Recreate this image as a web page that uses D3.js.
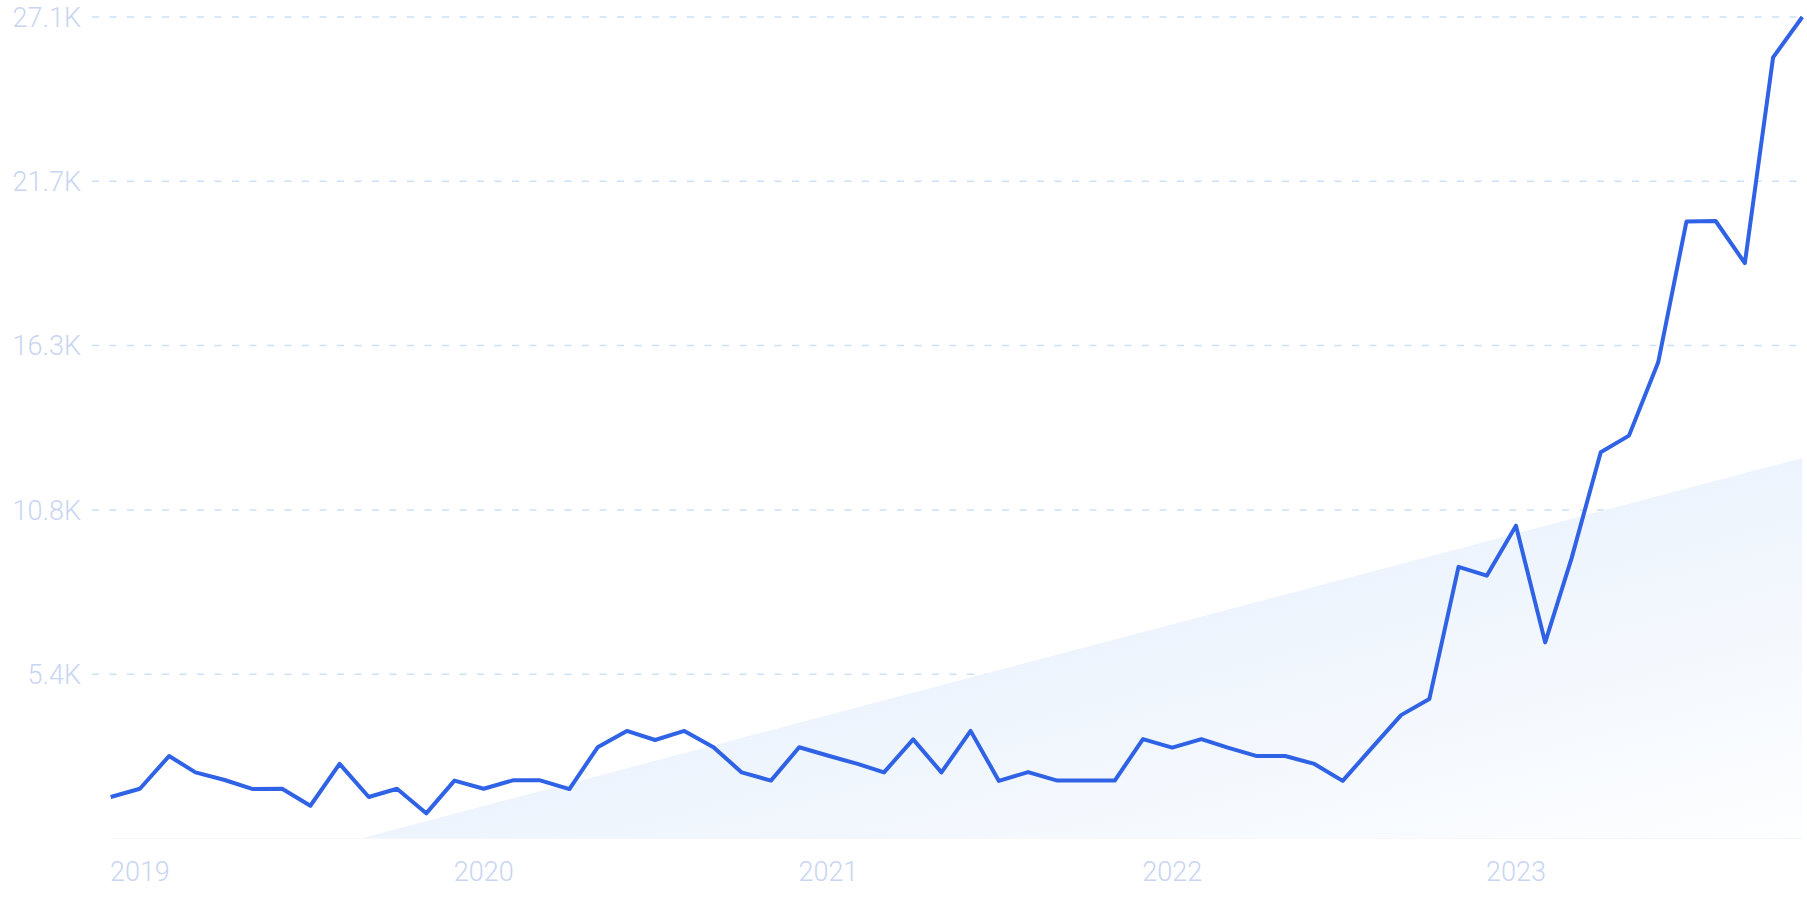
<!DOCTYPE html>
<html>
<head>
<meta charset="utf-8">
<script src="https://cdn.jsdelivr.net/npm/d3@7"></script>
<style>
  body { margin: 0; background: #fff; }
  svg { display: block; }
  .tick-label { font-family: Roboto, "Noto Sans", sans-serif; font-weight: 300; font-size: 27px; fill: #c9d5f3; }
</style>
</head>
<body>
<script>
// monthly points, Dec 2018 .. Nov 2023
var months = [
  "2018-12",
  "2019-01","2019-02","2019-03","2019-04","2019-05","2019-06","2019-07","2019-08","2019-09","2019-10","2019-11","2019-12",
  "2020-01","2020-02","2020-03","2020-04","2020-05","2020-06","2020-07","2020-08","2020-09","2020-10","2020-11","2020-12",
  "2021-01","2021-02","2021-03","2021-04","2021-05","2021-06","2021-07","2021-08","2021-09","2021-10","2021-11","2021-12",
  "2022-01","2022-02","2022-03","2022-04","2022-05","2022-06","2022-07","2022-08","2022-09","2022-10","2022-11","2022-12",
  "2023-01","2023-02","2023-03","2023-04","2023-05","2023-06","2023-07","2023-08","2023-09","2023-10","2023-11"
];
var values = [
  1370,
  1640, 2720, 2180, 1930, 1630, 1640, 1080, 2460, 1370, 1640, 830, 1910,
  1640, 1920, 1920, 1630, 3010, 3550, 3250, 3550, 3010, 2180, 1910, 3010,
  2730, 2460, 2180, 3270, 2180, 3550, 1900, 2190, 1910, 1910, 1910, 3280,
  3000, 3280, 3000, 2720, 2720, 2460, 1900, 2990, 4070, 4600, 8960, 8670,
  10320, 6470, 9240, 12740, 13290, 15710, 20350, 20370, 18980, 25770, 27100
];
var yearTicks = ["2019", "2020", "2021", "2022", "2023"];
var yMax = 27100;
var yTickCount = 5;

var width = 1807, height = 903;
var parseMonth = d3.timeParse("%Y-%m");
var parseYear = d3.timeParse("%Y");

var data = months.map(function(m, i) { return {date: parseMonth(m), value: values[i]}; });

var svg = d3.select("body").append("svg")
  .attr("width", width)
  .attr("height", height);

var x = d3.scaleTime()
  .domain(d3.extent(data, function(d) { return d.date; }))
  .range([110.7, 1802.3]);

var y = d3.scaleLinear()
  .domain([0, yMax])
  .range([838.5, 17]);

// gradient for the trend area
var defs = svg.append("defs");
var grad = defs.append("linearGradient")
  .attr("id", "trendFill")
  .attr("x1", 0).attr("y1", 0)
  .attr("x2", 1).attr("y2", 1);
grad.append("stop").attr("offset", "0%").attr("stop-color", "#e0ebfb");
grad.append("stop").attr("offset", "55%").attr("stop-color", "#eff5fd");
grad.append("stop").attr("offset", "100%").attr("stop-color", "#fdfeff");

// grid lines + y labels
var yTicks = d3.range(1, yTickCount + 1).map(function(i) { return yMax * i / yTickCount; });

svg.append("g")
  .selectAll("line")
  .data(yTicks)
  .enter().append("line")
  .attr("x1", 92)
  .attr("x2", 1797)
  .attr("y1", function(d) { return y(d); })
  .attr("y2", function(d) { return y(d); })
  .attr("stroke", "#cde1f6")
  .attr("stroke-width", 1.5)
  .attr("stroke-dasharray", "7 10.5");

svg.append("g")
  .selectAll("text")
  .data(yTicks)
  .enter().append("text")
  .attr("class", "tick-label")
  .attr("x", 81)
  .attr("y", function(d) { return y(d); })
  .attr("dy", "0.36em")
  .attr("text-anchor", "end")
  .text(function(d) { return (d / 1000).toFixed(1) + "K"; });

// trend (least squares over time), clipped where it crosses zero
var xs = data.map(function(d) { return +d.date; });
var mx = d3.mean(xs), my = d3.mean(values);
var num = d3.sum(data, function(d) { return (+d.date - mx) * (d.value - my); });
var den = d3.sum(xs, function(t) { return (t - mx) * (t - mx); });
var slope = num / den;
var intercept = my - slope * mx;
var tStart = Math.max(xs[0], -intercept / slope);
var tEnd = xs[xs.length - 1];
var trend = [
  {date: new Date(tStart), value: 0},
  {date: new Date(tEnd), value: intercept + slope * tEnd}
];

var trendArea = d3.area()
  .x(function(d) { return x(d.date); })
  .y0(y(0))
  .y1(function(d) { return y(d.value); });

svg.append("path")
  .datum(trend)
  .attr("d", trendArea)
  .attr("fill", "url(#trendFill)");

// faint baseline
svg.append("line")
  .attr("x1", x(data[0].date))
  .attr("x2", x(tEnd))
  .attr("y1", y(0))
  .attr("y2", y(0))
  .attr("stroke", "#f5f7fa")
  .attr("stroke-width", 1);

// main line
var line = d3.line()
  .x(function(d) { return x(d.date); })
  .y(function(d) { return y(d.value); });

svg.append("path")
  .datum(data)
  .attr("d", line)
  .attr("fill", "none")
  .attr("stroke", "#2f62e5")
  .attr("stroke-width", 4)
  .attr("stroke-linejoin", "round");

// x labels
svg.append("g")
  .selectAll("text")
  .data(yearTicks)
  .enter().append("text")
  .attr("class", "tick-label")
  .attr("x", function(d) { return x(parseYear(d)); })
  .attr("y", 871)
  .attr("dy", "0.36em")
  .attr("text-anchor", "middle")
  .text(function(d) { return d; });
</script>
</body>
</html>
